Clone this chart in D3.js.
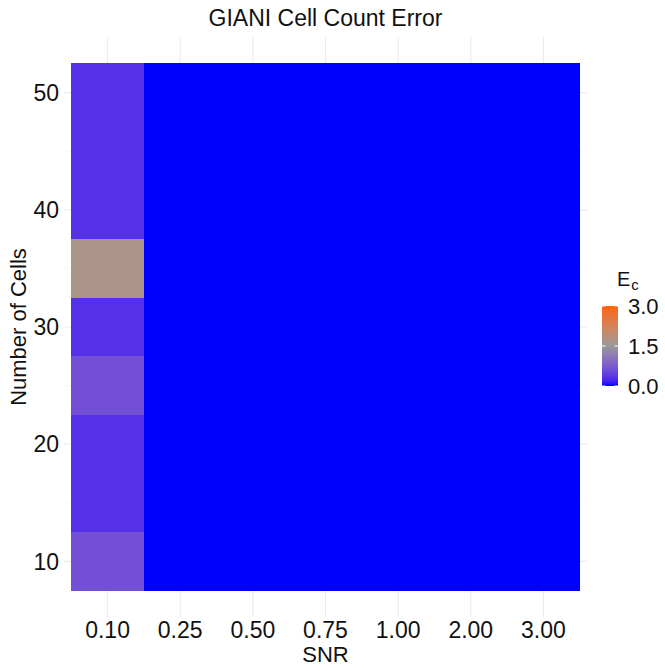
<!DOCTYPE html>
<html>
<head>
<meta charset="utf-8">
<script src="https://cdn.jsdelivr.net/npm/d3@7"></script>
<style>
  body { margin: 0; background: #fff; }
  text { font-family: "Liberation Sans", Arial, sans-serif; fill: #111; }
</style>
</head>
<body>
<div id="chart"></div>
<script>
// chart data
let snrLevels = ["0.10", "0.25", "0.50", "0.75", "1.00", "2.00", "3.00"];
let cellCounts = [10, 15, 20, 25, 30, 35, 40, 45, 50];
// error per cell count for SNR 0.10 (other SNR columns are all 0)
let errLowSnr = [0.62, 0.3, 0.3, 0.62, 0.3, 1.7, 0.3, 0.3, 0.3];
let errOther = [0, 0, 0, 0, 0, 0, 0, 0, 0];
let yTicks = [10, 20, 30, 40, 50];
let yMinor = [15, 25, 35, 45];
let legendTicks = [0, 1.5, 3];

let W = 665, H = 671;
let panel = {left: 64, right: 587, top: 37, bottom: 617};

let tiles = [];
snrLevels.forEach(function(s, i){
    cellCounts.forEach(function(n, j){
        let v = (i == 0) ? errLowSnr[j] : errOther[j];
        tiles.push({snr: s, n: n, val: v});
    });
});

let svg = d3.select("#chart").append("svg")
    .attr("width", W)
    .attr("height", H);

// discrete x, expanded a little beyond the tiles
let band = (panel.right - panel.left) / 7.2;
let x = d3.scaleBand()
    .domain(snrLevels)
    .range([panel.left + 0.1 * band, panel.right - 0.1 * band]);

let y = d3.scaleLinear()
    .domain([5.25, 54.75])
    .range([panel.bottom, panel.top]);

let color = d3.scaleLinear()
    .domain([0, 1.5, 3])
    .range(["#0000ff", "#999999", "#ff6200"])
    .interpolate(d3.interpolateLab);

// grid
let grid = svg.append("g");
grid.selectAll(".minor")
    .data(yMinor)
    .enter().append("line")
    .attr("x1", panel.left).attr("x2", panel.right)
    .attr("y1", d => y(d)).attr("y2", d => y(d))
    .style("stroke", "#f2f2f2").style("stroke-width", 0.6);
grid.selectAll(".major")
    .data(yTicks)
    .enter().append("line")
    .attr("x1", panel.left).attr("x2", panel.right)
    .attr("y1", d => y(d)).attr("y2", d => y(d))
    .style("stroke", "#ebebeb").style("stroke-width", 1.1);
grid.selectAll(".vmajor")
    .data(snrLevels)
    .enter().append("line")
    .attr("x1", d => x(d) + x.bandwidth() / 2).attr("x2", d => x(d) + x.bandwidth() / 2)
    .attr("y1", panel.top).attr("y2", panel.bottom)
    .style("stroke", "#ebebeb").style("stroke-width", 1.1);

// tiles
svg.append("g").selectAll("rect")
    .data(tiles)
    .enter().append("rect")
    .attr("x", d => x(d.snr))
    .attr("width", x.bandwidth())
    .attr("y", d => y(d.n + 2.5))
    .attr("height", d => y(d.n - 2.5) - y(d.n + 2.5))
    .attr("shape-rendering", "crispEdges")
    .style("fill", d => color(d.val));

// axes labels (no ticks, theme_minimal style)
svg.append("g").selectAll("text")
    .data(snrLevels)
    .enter().append("text")
    .attr("x", d => x(d) + x.bandwidth() / 2)
    .attr("y", 638)
    .style("text-anchor", "middle")
    .style("font-size", "23px")
    .text(d => d);

svg.append("g").selectAll("text")
    .data(yTicks)
    .enter().append("text")
    .attr("x", 59)
    .attr("y", d => y(d))
    .attr("dy", "0.36em")
    .style("text-anchor", "end")
    .style("font-size", "23px")
    .text(d => d);

svg.append("text")
    .attr("x", (panel.left + panel.right) / 2)
    .attr("y", 662)
    .style("text-anchor", "middle")
    .style("font-size", "22px")
    .text("SNR");

svg.append("text")
    .attr("transform", "translate(26," + ((panel.top + panel.bottom) / 2) + ") rotate(-90)")
    .style("text-anchor", "middle")
    .style("font-size", "22px")
    .text("Number of Cells");

svg.append("text")
    .attr("x", (panel.left + panel.right) / 2)
    .attr("y", 26)
    .style("text-anchor", "middle")
    .style("font-size", "23px")
    .text("GIANI Cell Count Error");

// legend colour bar
let lg = svg.append("g");
let barX = 602, barW = 16, barTop = 306, barBot = 386;
let ly = d3.scaleLinear().domain([0, 3]).range([barBot, barTop]);

let grad = svg.append("defs").append("linearGradient")
    .attr("id", "grad")
    .attr("x1", "0%").attr("y1", "100%")
    .attr("x2", "0%").attr("y2", "0%");
d3.range(0, 1.01, 0.05).forEach(function(t){
    grad.append("stop")
        .attr("offset", (t * 100) + "%")
        .attr("stop-color", color(t * 3));
});

lg.append("rect")
    .attr("x", barX).attr("y", barTop)
    .attr("width", barW).attr("height", barBot - barTop)
    .style("fill", "url(#grad)");

lg.selectAll(".tk")
    .data(legendTicks)
    .enter().append("g")
    .each(function(d){
        let g = d3.select(this);
        g.append("line")
            .attr("x1", barX).attr("x2", barX + 3.5)
            .attr("y1", ly(d)).attr("y2", ly(d))
            .style("stroke", "#fff").style("stroke-width", 1);
        g.append("line")
            .attr("x1", barX + barW - 3.5).attr("x2", barX + barW)
            .attr("y1", ly(d)).attr("y2", ly(d))
            .style("stroke", "#fff").style("stroke-width", 1);
    });

lg.selectAll(".lbl")
    .data(legendTicks)
    .enter().append("text")
    .attr("x", 628)
    .attr("y", d => ly(d))
    .attr("dy", "0.36em")
    .style("font-size", "22px")
    .text(d => d.toFixed(1));

let ttl = lg.append("text")
    .attr("x", 617)
    .attr("y", 286)
    .style("font-size", "20px");
ttl.append("tspan").text("E");
ttl.append("tspan").attr("dy", 4).attr("dx", 1).style("font-size", "15px").text("c");
</script>
</body>
</html>
